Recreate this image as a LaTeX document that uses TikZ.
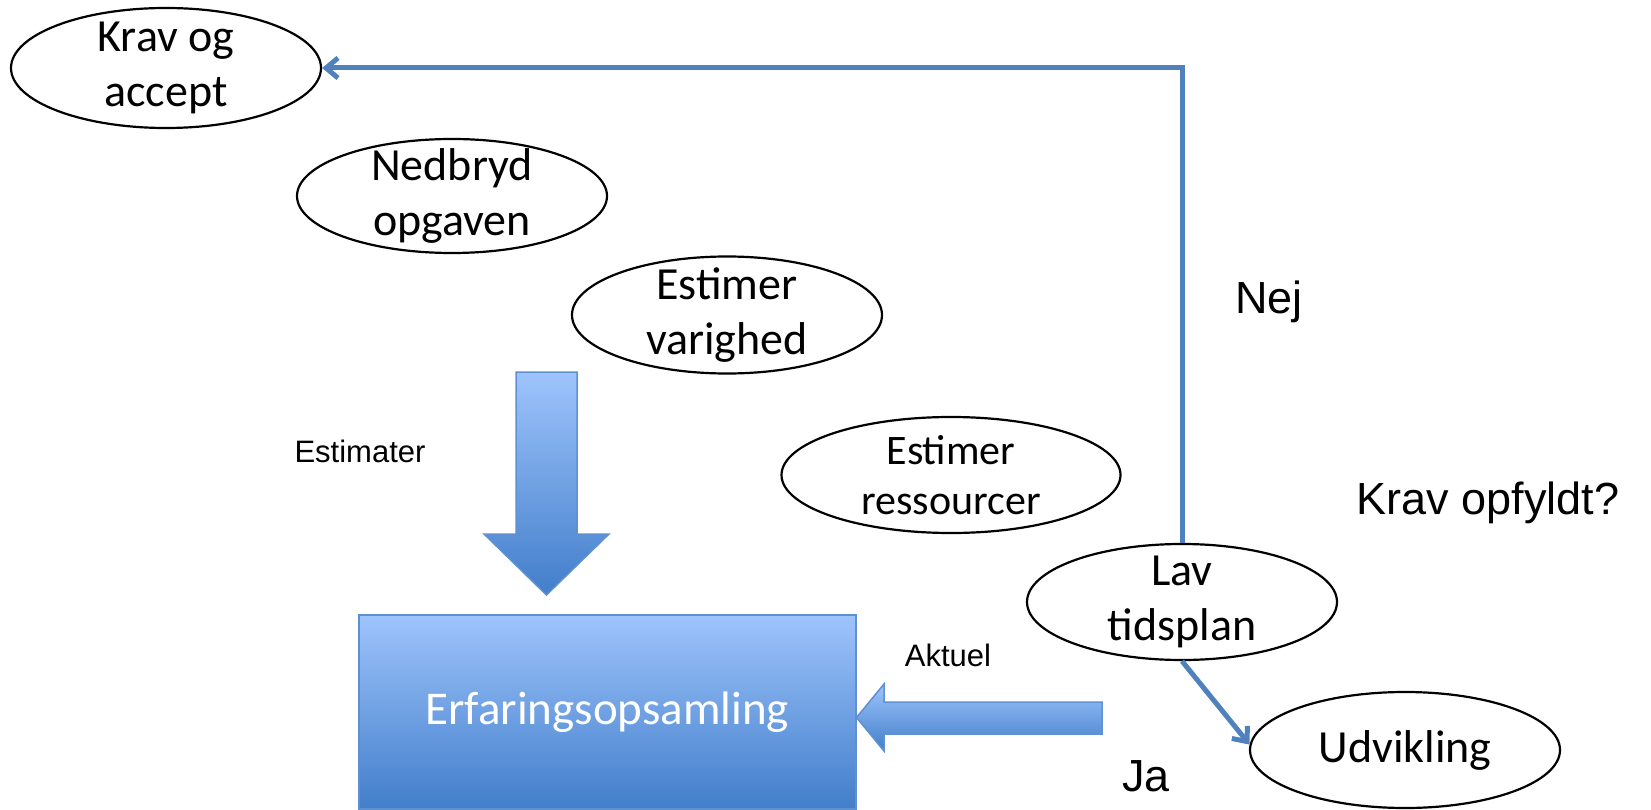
\documentclass[tikz,border=0pt]{standalone}
\usepackage{fontspec}
\setmainfont{Carlito}
\newfontfamily\arialf{Liberation Sans}
\usetikzlibrary{arrows.meta,shapes.geometric}
\definecolor{lnblue}{RGB}{79,129,189}
\definecolor{gtop}{RGB}{158,196,252}
\definecolor{gbot}{RGB}{66,126,202}
\definecolor{gedge}{RGB}{95,145,210}
\begin{document}
\begin{tikzpicture}[x=1pt,y=-1pt,
  oval/.style={ellipse, draw=black, line width=2.2pt, minimum width=310pt, minimum height=116pt, inner sep=0pt},
  ovtxt/.style={align=center, font=\fontsize{46}{55}\selectfont, inner sep=0pt},
  lbl/.style={font=\arialf\fontsize{45}{54}\selectfont, inner sep=0pt},
  slbl/.style={font=\arialf\fontsize{31}{37}\selectfont, inner sep=0pt},
  flow/.style={draw=lnblue, line width=5pt, -{Straight Barb[length=12pt,width=20pt]}},
  block/.style={draw=gedge, line width=1.5pt, top color=gtop, bottom color=gbot}]
\useasboundingbox (0,0) rectangle (1651,810);

% ellipses
\node[oval, minimum height=120pt] (kra) at (166,68) {};
\node[ovtxt] at (kra) {Krav og\\accept};
\node[oval, minimum height=114pt] (ned) at (452,196) {};
\node[ovtxt] at (ned) {Nedbryd\\opgaven};
\node[oval, minimum height=117pt] (var) at (727,315) {};
\node[ovtxt] at (var) {Estimer\\varighed};
\node[oval, minimum width=339pt, minimum height=116pt] (res) at (951,475) {};
\node[ovtxt, font=\fontsize{42}{50}\selectfont] at (res) {Estimer\\ressourcer};
\node[oval] (lav) at (1182,602) {};
\node[ovtxt] at (lav) {Lav\\tidsplan};
\node[oval] (udv) at (1405,750) {};
\node[ovtxt] at (udv) {Udvikling};

% experience box
\node[block, minimum width=497pt, minimum height=194pt, inner sep=0pt, anchor=north west,
      text=white, font=\fontsize{47}{56}\selectfont] (erf) at (358,614) {Erfaringsopsamling};

% block arrows
\path[block] (516,372) -- (577,372) -- (577,534) -- (609,534) -- (546.5,595) -- (484,534) -- (516,534) -- cycle;
\path[block] (1102,702) -- (1102,734) -- (884,734) -- (884,751) -- (erf.east |- 0,717.5) -- (884,684) -- (884,702) -- cycle;

% connectors
\draw[flow] (lav.north) |- (kra.east);
\draw[flow] (lav.south) -- (udv.178);

% labels
\node[slbl] (est) at (360,451) {Estimater};
\node[slbl] (akt) at (948,655) {Aktuel};
\node[lbl] (nej) at (1269,302) {Nej};
\node[lbl] (kop) at (1488,503) {Krav opfyldt?};
\node[lbl] (ja) at (1146,776) {Ja};
\end{tikzpicture}
\end{document}
